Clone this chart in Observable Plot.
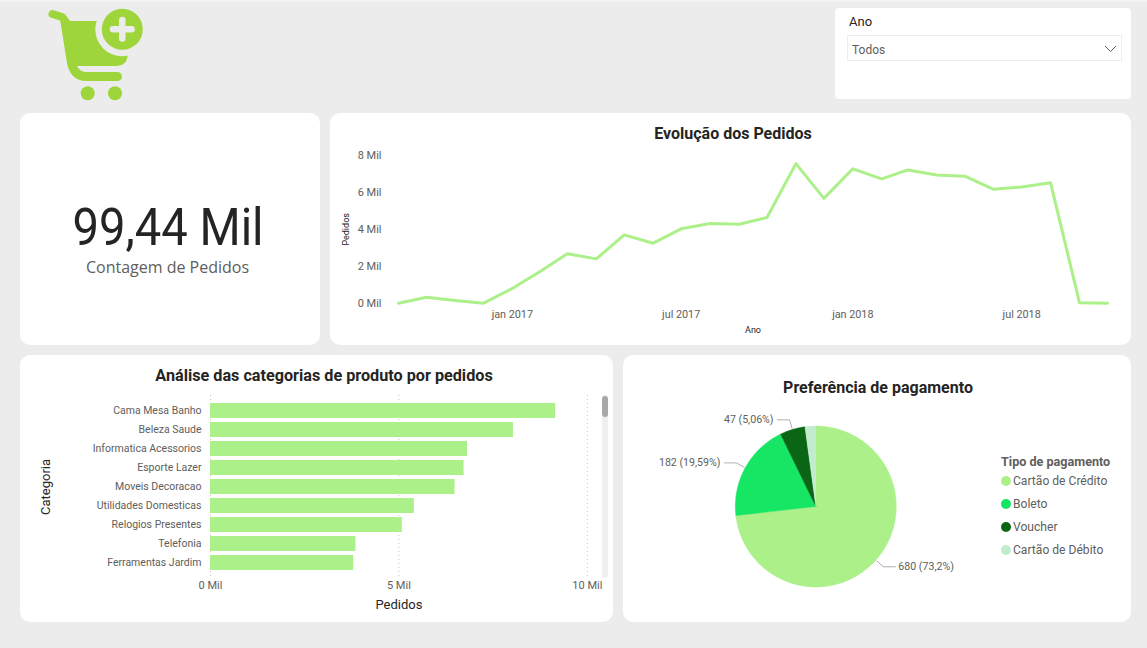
<!DOCTYPE html>
<html lang="pt">
<head>
<meta charset="utf-8">
<script src="https://cdn.jsdelivr.net/npm/d3@7"></script>
<script src="https://cdn.jsdelivr.net/npm/@observablehq/plot@0.6"></script>
<style>
  html,body{margin:0;padding:0;background:#ECECEC;width:1147px;height:648px;overflow:hidden;font-family:Roboto,sans-serif;}
  .strip{position:absolute;left:0;top:0;width:1147px;height:2px;background:#F3F3F3;}
  .card{position:absolute;background:#fff;border-radius:10px;}
  .card svg{display:block;position:absolute;left:0;top:0;}
  .abs{position:absolute;white-space:nowrap;}
  .title{font:700 16px Roboto,sans-serif;color:#252423;transform:translate(-50%,-50%);}
</style>
</head>
<body>
<div class="strip"></div>

<svg class="abs" style="left:0;top:0" width="160" height="110" aria-label="Carrinho de compras">
  <path d="M52.5,14 L62,17 L66,22" fill="none" stroke="#9ED53A" stroke-width="8" stroke-linecap="round" stroke-linejoin="round"/>
  <path d="M60,19 L66,21 L128,21 L128,55 Q126.5,66 117,66 L77,66 Q79,71 85,72 L117.5,72 A4.5,4.5 0 0 1 117.5,81 L85,81 Q69,80 66.5,60 Z" fill="#9ED53A"/>
  <circle cx="122.3" cy="29.3" r="27" fill="#ECECEC"/>
  <circle cx="122.3" cy="29.3" r="20.5" fill="#9ED53A"/>
  <path d="M113,29.3 H131.6 M122.3,20 V38.6" stroke="#ECECEC" stroke-width="6.5" stroke-linecap="round"/>
  <circle cx="87.7" cy="93.3" r="7" fill="#9ED53A"/>
  <circle cx="115" cy="93.3" r="7" fill="#9ED53A"/>
</svg>

<div class="card" style="left:835px;top:8px;width:296px;height:91px;border-radius:4px"></div>
<div class="abs" style="left:849px;top:14px;font:13px Roboto,sans-serif;color:#252423">Ano</div>
<div class="abs" style="left:847px;top:35px;width:273px;height:24px;border:1px solid #EDEDED"></div>
<div class="abs" style="left:852px;top:43px;font:12px Roboto,sans-serif;color:#605E5C">Todos</div>
<svg class="abs" style="left:1100px;top:40px" width="22" height="16"><path d="M5,6 L10.5,11.5 L16,6" fill="none" stroke="#605E5C" stroke-width="1"/></svg>

<div class="card" style="left:20px;top:113px;width:300px;height:232px"></div>
<div class="abs" id="kpi" style="left:168px;top:227px;transform:translate(-50%,-50%) scaleX(0.925);font:400 51px Roboto,sans-serif;color:#252423">99,44 Mil</div>
<div class="abs" style="left:167.5px;top:267px;transform:translate(-50%,-50%);font:400 16px 'Open Sans',sans-serif;color:#605E5C">Contagem de Pedidos</div>

<div class="card" id="lineCard" style="left:330px;top:113px;width:801px;height:232px"></div>
<div class="abs title" style="left:733px;top:133px">Evolução dos Pedidos</div>

<div class="card" id="barCard" style="left:20px;top:355px;width:593px;height:267px"></div>
<div class="abs title" style="left:324px;top:375px;font-size:16.2px">Análise das categorias de produto por pedidos</div>
<div class="abs" style="left:602px;top:395px;width:6px;height:183px;background:#F0F0F0;border-radius:3px"></div>
<div class="abs" style="left:602px;top:396px;width:6px;height:21px;background:#A8A8A8;border-radius:3px"></div>

<div class="card" id="pieCard" style="left:623px;top:355px;width:508px;height:267px"></div>
<div class="abs title" style="left:878px;top:386.5px">Preferência de pagamento</div>
<div id="legend"></div>

<script>
// ---- Evolução dos Pedidos
const months = ["2016-09","2016-10","2016-11","2016-12","2017-01","2017-02","2017-03","2017-04","2017-05","2017-06","2017-07","2017-08","2017-09","2017-10","2017-11","2017-12","2018-01","2018-02","2018-03","2018-04","2018-05","2018-06","2018-07","2018-08","2018-09","2018-10"];
const monthlyOrders = [0,320,150,0,800,1760,2680,2400,3700,3250,4030,4320,4280,4640,7560,5680,7280,6730,7220,6940,6880,6170,6290,6520,20,0];
const lineTickDates = ["2017-01","2017-07","2018-01","2018-07"];
const lineTickLabels = ["jan 2017","jul 2017","jan 2018","jul 2018"];
const lineYTicks = [0,2000,4000,6000,8000];

// ---- Categorias
const categories = ["Cama Mesa Banho","Beleza Saude","Informatica Acessorios","Esporte Lazer","Moveis Decoracao","Utilidades Domesticas","Relogios Presentes","Telefonia","Ferramentas Jardim"];
const categoryOrders = [9160,8040,6820,6730,6490,5410,5090,3860,3800];
const barTicks = [0,5000,10000];

// ---- Pagamento
const payTypes = ["Cartão de Crédito","Boleto","Voucher","Cartão de Débito"];
const payValues = [680,182,47,20];
const payLabels = ["680 (73,2%)","182 (19,59%)","47 (5,06%)",""];
const payColors = ["#ACF089","#16E664","#0A6614","#C1EDCE"];

const FONT = "Roboto,sans-serif";
const GREY = "#605E5C";
const GREEN = "#ACF089";
const parseMonth = d3.utcParse("%Y-%m");
const milFormat = d => `${d/1000} Mil`;

// Linha
const lineData = months.map((m,i)=>({date:parseMonth(m),orders:monthlyOrders[i]}));
document.getElementById("lineCard").append(Plot.plot({
  width:801,height:232,marginTop:42,marginBottom:42.3,marginLeft:68,marginRight:24,
  style:{background:"transparent",fontFamily:FONT,fontSize:"11px"},
  x:{type:"utc"},
  y:{domain:[0,8000]},
  marks:[
    Plot.axisY({ticks:lineYTicks,tickFormat:milFormat,tickSize:0,tickPadding:17,label:null,color:GREY,fontSize:11}),
    Plot.axisX({ticks:lineTickDates.map(parseMonth),tickFormat:d=>lineTickLabels[lineTickDates.findIndex(t=>+parseMonth(t)===+d)],tickSize:0,tickPadding:7,label:null,color:GREY,fontSize:10.8}),
    Plot.text(["Pedidos"],{frameAnchor:"left",textAnchor:"middle",dx:-52.5,rotate:-90,fontSize:9,fill:"#252423"}),
    Plot.text(["Ano"],{frameAnchor:"bottom",dy:30,fontSize:9,fill:"#252423"}),
    Plot.line(lineData,{x:"date",y:"orders",stroke:GREEN,strokeWidth:3})
  ]
}));

// Barras
const barData = categories.map((c,i)=>({category:c,orders:categoryOrders[i]}));
document.getElementById("barCard").append(Plot.plot({
  width:593,height:267,marginTop:40,marginBottom:44,marginLeft:190,marginRight:26.2,
  style:{background:"transparent",fontFamily:FONT,fontSize:"11px"},
  x:{domain:[0,10000]},
  y:{domain:categories,paddingInner:0.2,paddingOuter:0.415},
  marks:[
    Plot.ruleX(barTicks,{stroke:"#C8C6C4",strokeDasharray:"1,3"}),
    Plot.barX(barData,{x:"orders",y:"category",fill:GREEN}),
    Plot.axisY({tickSize:0,tickPadding:9,label:null,color:GREY,fontSize:10.5,dy:-0.4}),
    Plot.axisX({ticks:barTicks,tickFormat:milFormat,tickSize:0,tickPadding:3,label:null,color:GREY,fontSize:11}),
    Plot.text(["Pedidos"],{frameAnchor:"bottom",dy:30,fontSize:13,fill:"#252423"}),
    Plot.text(["Categoria"],{frameAnchor:"left",textAnchor:"middle",dx:-165,rotate:-90,fontSize:13,fill:"#252423"})
  ]
}));

// Pizza, construída a partir dos valores (um ponto por grau)
const R = 80.5;
const total = d3.sum(payValues);
const pol = (deg,r)=>[r*Math.sin(deg*Math.PI/180), r*Math.cos(deg*Math.PI/180)];
const slices = [];
const leaders = [];
const labels = [];
let start = 0;
payTypes.forEach((name,i)=>{
  const sweep = payValues[i]/total*360, end = start+sweep, mid = start+sweep/2;
  const pts = [[0,0]];
  for (let a=start;a<end;a+=1) pts.push(pol(a,R));
  pts.push(pol(end,R),[0,0]);
  pts.forEach(([x,y])=>slices.push({name,x,y}));
  if (payLabels[i]) {
    const side = mid<180?1:-1;
    const [x0,y0] = pol(mid,R+1);
    const [x1,y1] = pol(mid,R*1.125);
    const x2 = x1+side*12;
    [[x0,y0],[x1,y1],[x2,y1]].forEach(([x,y])=>leaders.push({name,x,y}));
    labels.push({text:payLabels[i],x:x2,y:y1,anchor:side>0?"start":"end",dx:side*4});
  }
  start = end;
});
document.getElementById("pieCard").append(Plot.plot({
  width:508,height:267,margin:0,
  style:{background:"transparent",fontFamily:FONT,fontSize:"11px"},
  x:{axis:null,domain:[-192.3,315.7]},
  y:{axis:null,domain:[-116,151]},
  color:{domain:payTypes,range:payColors},
  marks:[
    Plot.line(slices,{x:"x",y:"y",z:"name",fill:"name",stroke:"name",strokeWidth:0.4}),
    Plot.line(leaders,{x:"x",y:"y",z:"name",stroke:"#B3B0AD",strokeWidth:1}),
    Plot.text(labels.filter(d=>d.anchor==="start"),{x:"x",y:"y",text:"text",textAnchor:"start",dx:3,fill:GREY,fontSize:10.6}),
    Plot.text(labels.filter(d=>d.anchor==="end"),{x:"x",y:"y",text:"text",textAnchor:"end",dx:-4,fill:GREY,fontSize:10.6})
  ]
}));

// Legenda
const legend = document.getElementById("legend");
legend.innerHTML = `<div class="abs" style="left:1001px;top:454px;font:700 12.6px Roboto,sans-serif;color:${GREY}">Tipo de pagamento</div>`
 + payTypes.map((t,i)=>`<div class="abs" style="left:1001px;top:${476+23*i}px;width:10px;height:10px;border-radius:50%;background:${payColors[i]}"></div>
   <div class="abs" style="left:1013px;top:${474+23*i}px;font:12.1px Roboto,sans-serif;color:${GREY}">${t}</div>`).join("");
</script>
</body>
</html>
